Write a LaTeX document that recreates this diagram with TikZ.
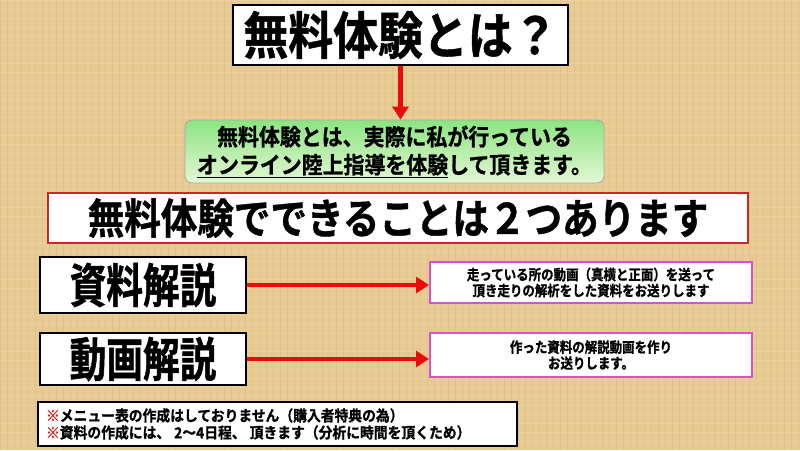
\documentclass[tikz,border=0pt]{standalone}
\usepackage{fontspec}
\setmainfont{Noto Sans CJK JP}[BoldFont={* Bold}, BoldFeatures={FakeBold=1}]
\usetikzlibrary{arrows.meta}
\definecolor{bgtan}{RGB}{232,203,146}
\definecolor{bgline}{RGB}{210,178,118}
\definecolor{arrred}{RGB}{232,12,12}
\definecolor{boxred}{RGB}{200,40,40}
\definecolor{pinkb}{RGB}{214,80,210}
\definecolor{gtop}{RGB}{140,228,130}
\definecolor{gbot}{RGB}{228,247,212}
\definecolor{kome}{RGB}{230,20,20}
\newcommand\jpfont[2]{\bfseries\fontsize{#1pt}{#1pt}\selectfont\addfontfeatures{FakeStretch=#2}}
\tikzset{
  blackbox/.style={draw=black, line width=2.2pt, fill=white, inner sep=0pt},
  redbox/.style={draw=boxred, line width=2pt, fill=white, inner sep=0pt},
  pinkbox/.style={draw=pinkb, line width=2pt, fill=white, inner sep=0pt, align=center, font=\jpfont{14.5}{0.86}, execute at begin node=\setlength{\baselineskip}{16pt}},
  greenbox/.style={draw=gray!70, line width=0.8pt, rounded corners=7pt, top color=gtop, bottom color=gbot, inner sep=0pt, align=center, font=\jpfont{23}{0.91}, execute at begin node=\setlength{\baselineskip}{28pt}},
  redarrow/.style={draw=arrred, line width=4.5pt, -{Triangle[length=13pt,width=16pt]}},
}
\begin{document}
\begin{tikzpicture}[x=1pt,y=-1pt]
\useasboundingbox (0,0) rectangle (800,450);
\fill[bgtan] (0,0) rectangle (800,450);
\foreach \i in {0,7,...,800} {\draw[bgline, opacity=0.35, line width=0.6pt] (\i,0) -- (\i,450);}
\foreach \j in {0,9,...,450} {\draw[white, opacity=0.12, line width=0.8pt] (0,\j) -- (800,\j);}

\node[blackbox, minimum width=335pt, minimum height=60pt, font=\jpfont{51}{0.88}] (title) at (400.5,35) {無料体験とは？};
\node[greenbox, minimum width=419pt, minimum height=63pt] (green) at (394.5,151.5) {無料体験とは、実際に私が行っている\\\underline{オンライン陸上指導を体験}して頂きます。};
\node[redbox, minimum width=700pt, minimum height=50pt, font=\jpfont{42}{0.87}] (red) at (398,218) {無料体験でできることは２つあります};
\node[blackbox, minimum width=206pt, minimum height=56pt, font=\jpfont{47}{0.78}] (shiryo) at (143,285) {資料解説};
\node[pinkbox, minimum width=322pt, minimum height=41pt] (pink1) at (591,282.5) {走っている所の動画（真横と正面）を送って\\頂き走りの解析をした資料をお送りします};
\node[blackbox, minimum width=206pt, minimum height=52pt, font=\jpfont{47}{0.78}] (douga) at (143,359) {動画解説};
\node[pinkbox, minimum width=322pt, minimum height=44pt] (pink2) at (591,355) {作った資料の解説動画を作り\\お送りします。};
\node[draw=black, line width=2pt, fill=white, inner ysep=0pt, inner xsep=8pt, text width=463pt, minimum height=44pt, align=left, font=\jpfont{15}{0.92}, execute at begin node=\setlength{\baselineskip}{17pt}] (note) at (277.5,424) {{\color{kome}※}メニュー表の作成はしておりません（購入者特典の為）\\{\color{kome}※}資料の作成には、\hspace{4pt}2～4日程、\hspace{4pt}頂きます（分析に時間を頂くため）};

\draw[redarrow] (title.south) -- (title.south |- green.north);
\draw[redarrow] (shiryo.east) -- (shiryo.east -| pink1.west);
\draw[redarrow] (douga.east) -- (douga.east -| pink2.west);
\end{tikzpicture}
\end{document}
